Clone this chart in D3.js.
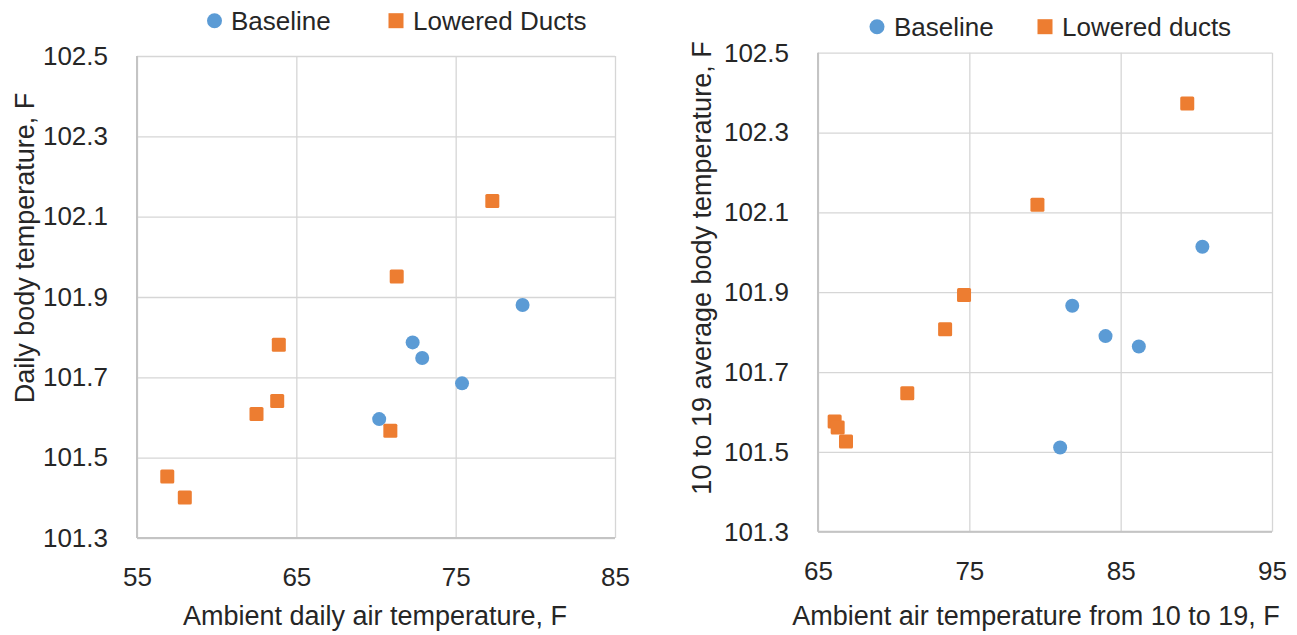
<!DOCTYPE html>
<html>
<head>
<meta charset="utf-8">
<script src="https://cdn.jsdelivr.net/npm/d3@7/dist/d3.min.js"></script>
<style>
  html, body { margin: 0; padding: 0; background: #ffffff; }
  svg { display: block; }
  text { font-family: "Liberation Sans", Arial, sans-serif; fill: #262626; }
</style>
</head>
<body>
<svg id="chart" width="1297" height="635"></svg>
<script>
// Daily body temperature vs. ambient daily air temperature
const leftBaselineX = [70.2, 72.3, 72.9, 75.4, 79.2];
const leftBaselineY = [101.596, 101.787, 101.748, 101.685, 101.880];
const leftDuctsX = [56.9, 58.0, 62.5, 63.8, 63.9, 70.9, 71.3, 77.3];
const leftDuctsY = [101.453, 101.401, 101.609, 101.641, 101.781, 101.567, 101.951, 102.139];

// 10-19 h average body temperature vs. ambient air temperature from 10 to 19
const rightBaselineX = [81.0, 81.8, 84.0, 86.2, 90.4];
const rightBaselineY = [101.511, 101.866, 101.790, 101.764, 102.014];
const rightDuctsX = [66.1, 66.3, 66.85, 70.9, 73.4, 74.65, 79.5, 89.4];
const rightDuctsY = [101.576, 101.561, 101.526, 101.647, 101.807, 101.893, 102.119, 102.373];

// Axis ticks and labels
const leftXTicks = [55, 65, 75, 85];
const rightXTicks = [65, 75, 85, 95];
const yTicks = [101.3, 101.5, 101.7, 101.9, 102.1, 102.3, 102.5];
const leftTitles = { x: "Ambient daily air temperature, F", y: "Daily body temperature, F" };
const rightTitles = { x: "Ambient air temperature from 10 to 19, F", y: "10 to 19 average body temperature, F" };
const leftLegend = ["Baseline", "Lowered Ducts"];
const rightLegend = ["Baseline", "Lowered ducts"];

const BLUE = "#5B9BD5";
const ORANGE = "#ED7D31";
const svg = d3.select("#chart");

function zip(xs, ys) { return xs.map((x, i) => ({ x, y: ys[i] })); }

function drawPanel(cfg) {
  const { box, xTicks, baseline, ducts, titles, names, pos } = cfg;
  const w = box.x1 - box.x0, h = box.y1 - box.y0;
  const x = d3.scaleLinear().domain(d3.extent(xTicks)).range([0, w]);
  const y = d3.scaleLinear().domain(d3.extent(yTicks)).range([h, 0]);

  const g = svg.append("g").attr("transform", `translate(${box.x0},${box.y0})`);

  // gridlines + tick labels
  const gx = g.append("g").attr("transform", `translate(0,${h})`)
    .call(d3.axisBottom(x).tickValues(xTicks).tickFormat(d3.format("d"))
      .tickSize(-h).tickPadding(cfg.xPad));
  const gy = g.append("g")
    .call(d3.axisLeft(y).tickValues(yTicks).tickFormat(d3.format(".1f"))
      .tickSize(-w).tickPadding(29));
  [gx, gy].forEach(a => {
    a.select(".domain").remove();
    a.selectAll(".tick line").attr("stroke", "#D6D6D6").attr("stroke-width", 1.3);
    a.selectAll(".tick text").style("font-size", "26px").attr("fill", "#262626");
  });

  // axis lines
  g.append("line").attr("x1", 0).attr("x2", 0).attr("y1", 0).attr("y2", h)
    .attr("stroke", "#C4C4C4").attr("stroke-width", 2);
  g.append("line").attr("x1", 0).attr("x2", w).attr("y1", h).attr("y2", h)
    .attr("stroke", "#C4C4C4").attr("stroke-width", 2);

  // markers
  g.selectAll("circle.base").data(zip(baseline.x, baseline.y)).join("circle")
    .attr("class", "base")
    .attr("cx", d => x(d.x)).attr("cy", d => y(d.y)).attr("r", 7)
    .attr("fill", BLUE);
  g.selectAll("rect.duct").data(zip(ducts.x, ducts.y)).join("rect")
    .attr("class", "duct")
    .attr("x", d => x(d.x) - 7).attr("y", d => y(d.y) - 7)
    .attr("width", 14).attr("height", 14).attr("rx", 1.5)
    .attr("fill", ORANGE);

  // axis titles
  svg.append("text")
    .attr("x", pos.xTitle.cx).attr("y", pos.xTitle.baseline)
    .attr("text-anchor", "middle").style("font-size", "27px")
    .text(titles.x);
  svg.append("text")
    .attr("transform", `translate(${pos.yTitle.baseline},${pos.yTitle.cy}) rotate(-90)`)
    .attr("text-anchor", "middle").style("font-size", "27px")
    .text(titles.y);

  // legend
  const L = pos.legend;
  const lg = svg.append("g");
  lg.append("circle").attr("cx", L.c1).attr("cy", L.cy).attr("r", 7.5).attr("fill", BLUE);
  lg.append("text").attr("x", L.t1).attr("y", L.baseline)
    .style("font-size", "26px").text(names[0]);
  lg.append("rect").attr("x", L.c2 - 7.5).attr("y", L.cy - 7.5)
    .attr("width", 15).attr("height", 15).attr("fill", ORANGE);
  lg.append("text").attr("x", L.t2).attr("y", L.baseline)
    .style("font-size", "26px").text(names[1]);
}

drawPanel({
  box: { x0: 137, x1: 615, y0: 56, y1: 538 },
  xTicks: leftXTicks, xPad: 30,
  baseline: { x: leftBaselineX, y: leftBaselineY },
  ducts: { x: leftDuctsX, y: leftDuctsY },
  titles: leftTitles,
  names: leftLegend,
  pos: {
    xTitle: { cx: 375, baseline: 625 },
    yTitle: { cy: 248, baseline: 34 },
    legend: { c1: 214.5, t1: 231, c2: 396, t2: 413, cy: 20.7, baseline: 29.5 },
  },
});
drawPanel({
  box: { x0: 818, x1: 1272, y0: 52.7, y1: 531.7 },
  xTicks: rightXTicks, xPad: 30,
  baseline: { x: rightBaselineX, y: rightBaselineY },
  ducts: { x: rightDuctsX, y: rightDuctsY },
  titles: rightTitles,
  names: rightLegend,
  pos: {
    xTitle: { cx: 1036, baseline: 625 },
    yTitle: { cy: 268, baseline: 711 },
    legend: { c1: 877, t1: 894, c2: 1045, t2: 1062, cy: 26.7, baseline: 36 },
  },
});
</script>
</body>
</html>
